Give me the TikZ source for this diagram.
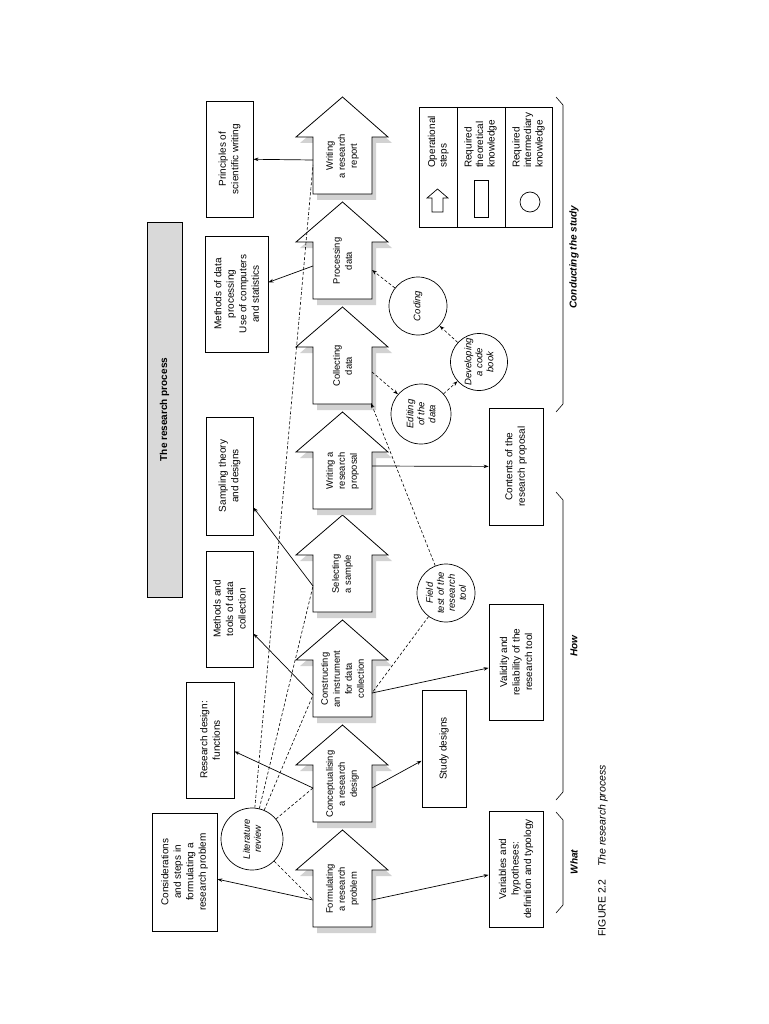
\documentclass[tikz,border=0pt]{standalone}
\usepackage{fontspec}
\setmainfont{Liberation Sans}
\usetikzlibrary{arrows.meta}
\tikzset{
 box/.style={draw,line width=0.8pt,fill=white,align=center,rotate=90,inner sep=1pt,font=\fontsize{10}{12.5}\selectfont},
 steptext/.style={align=center,rotate=90,inner sep=0pt,font=\fontsize{9.4}{12}\selectfont},
 legtext/.style={align=left,rotate=90,inner sep=0pt,font=\fontsize{10}{11.5}\selectfont},
 circ/.style={draw,circle,line width=0.7pt,fill=white,align=center,rotate=90,inner sep=0pt,font=\fontsize{9.5}{11}\selectfont\itshape},
 solidarr/.style={line width=0.7pt,-{Stealth[length=5pt,width=3.5pt]}},
 dline/.style={line width=0.6pt,dash pattern=on 3pt off 2pt},
 dasharr/.style={dline,-{Stealth[length=5pt,width=3.5pt]}},
 lbl/.style={rotate=90,font=\fontsize{10}{12}\selectfont\bfseries\itshape},
}
\newcommand\stepar[3]{%
 \fill[gray!35,shift={(4,6)}] (313,{#2+40}) -- (296,{#2+40}) -- (342.5,#2) -- (388,{#2+40}) -- (372,{#2+40}) -- (372,{#2+97}) -- (313,{#2+97}) -- cycle;
 \draw[line width=0.8pt,fill=white] (313,{#2+40}) -- (296,{#2+40}) -- (342.5,#2) -- (388,{#2+40}) -- (372,{#2+40}) -- (372,{#2+97}) -- (313,{#2+97}) -- cycle;
 \node[steptext] (#1) at (342.5,{#2+59}) {#3};
}
\begin{document}
\begin{tikzpicture}[x=1pt,y=-1pt]
\useasboundingbox[fill=white] (0,0) rectangle (768,1024);
% title
\node[box,fill=gray!30,minimum width=375pt,minimum height=35pt,font=\fontsize{10}{12}\selectfont\bfseries] (title) at (164.5,409.5) {The research process};
% steps
\stepar{form}{830}{Formulating\\a research\\problem}
\stepar{conc}{725}{Conceptualising\\a research\\design}
\stepar{cons}{620}{Constructing\\an instrument\\for data\\collection}
\stepar{samp}{515}{Selecting\\a sample}
\stepar{prop}{412}{Writing a\\research\\proposal}
\stepar{coll}{307}{Collecting\\data}
\stepar{proc}{202}{Processing\\data}
\stepar{rep}{97}{Writing\\a research\\report}
% coordinates on steps
\coordinate (formL) at (313,900); \coordinate (formR) at (372,900);
\coordinate (concL) at (313,788); \coordinate (concR) at (372,788);
\coordinate (consL) at (313,695); \coordinate (consR) at (372,693);
\coordinate (sampL) at (313,586);
\coordinate (propR) at (372,466);
\coordinate (collR) at (372,372); \coordinate (collB) at (371,403);
\coordinate (procL) at (313,266); \coordinate (procR) at (372,270);
\coordinate (repL) at (313,160); \coordinate (repLd) at (313,165);
% theory boxes
\node[box,minimum width=116pt,minimum height=47pt] (princ) at (229.5,159) {Principles of\\scientific writing};
\node[box,minimum width=116pt,minimum height=63pt] (mdp) at (236.5,294) {Methods of data\\processing\\Use of computers\\and statistics};
\node[box,minimum width=118pt,minimum height=47pt] (sth) at (229.5,476) {Sampling theory\\and designs};
\node[box,minimum width=116pt,minimum height=47pt] (mtd) at (229.5,609) {Methods and\\tools of data\\collection};
\node[box,minimum width=116pt,minimum height=48pt] (rdf) at (210,740) {Research design:\\functions};
\node[box,minimum width=118pt,minimum height=65pt] (csf) at (184.5,872) {Considerations\\and steps in\\formulating a\\research problem};
\node[box,minimum width=117pt,minimum height=44pt] (sd) at (444,748.5) {Study designs};
\node[box,minimum width=116pt,minimum height=54pt] (var) at (516,869) {Variables and\\hypotheses:\\definition and typology};
\node[box,minimum width=116pt,minimum height=54pt] (val) at (516,662) {Validity and\\reliability of the\\research tool};
\node[box,minimum width=117pt,minimum height=54pt] (cnt) at (516,466.5) {Contents of the\\research proposal};
% circles
\node[circ,minimum size=62pt] (lit) at (252,839) {Literature\\review};
\node[circ,minimum size=58pt] (fld) at (446,593) {Field\\test of the\\research\\tool};
\node[circ,minimum size=60pt] (edt) at (421,414) {Editing\\of the\\data};
\node[circ,minimum size=57pt] (dev) at (479,362) {Developing\\a code\\book};
\node[circ,minimum size=58pt] (cod) at (418,306) {Coding};
% dashed lines
\draw[dline] (lit) -- (repLd);
\draw[dline] (lit) -- (sampL);
\draw[dline] (lit) -- (consL);
\draw[dline] (lit) -- (concL);
\draw[dline] (lit) -- (formL);
\draw[dline] (fld) -- (consR);
\draw[dasharr] (fld) -- (collB);
\draw[dasharr] (collR) -- (edt);
\draw[dasharr] (edt) -- (dev);
\draw[dasharr] (dev) -- (cod);
\draw[dasharr] (cod) -- (procR);
% solid arrows
\draw[solidarr] (formL) -- (csf);
\draw[solidarr] (formR) -- (var);
\draw[solidarr] (concL) -- (rdf);
\draw[solidarr] (concR) -- (sd);
\draw[solidarr] (consL) -- (mtd);
\draw[solidarr] (consR) -- (val);
\draw[solidarr] (sampL) -- (sth);
\draw[solidarr] (propR) -- (cnt);
\draw[solidarr] (procL) -- (mdp);
\draw[solidarr] (repL) -- (princ);
% legend
\node[draw,line width=0.8pt,minimum width=120pt,minimum height=133pt,rotate=90,inner sep=0pt] (leg) at (485.5,167) {};
\draw[line width=0.8pt] (457,107) -- (457,227);
\draw[line width=0.8pt] (505,107) -- (505,227);
\node[legtext,anchor=south west] (l1) at (449,168) {Operational\\steps};
\node[legtext,anchor=south west] (l2) at (497,168) {Required\\theoretical\\knowledge};
\node[legtext,anchor=south west] (l3) at (545,168) {Required\\intermediary\\knowledge};
\draw[line width=0.7pt] (432,198) -- (427,198) -- (437.5,189) -- (448,198) -- (443,198) -- (443,212) -- (432,212) -- cycle;
\draw[line width=0.7pt] (474,180) rectangle (488,217);
\node[draw,circle,line width=0.7pt,minimum size=20pt,inner sep=0pt] (lc) at (530,202) {};
% brackets
\draw[line width=0.6pt] (556,97) -- (563,105) -- (563,404) -- (556,412);
\draw[line width=0.6pt] (556,492) -- (563,500) -- (563,792) -- (556,800);
\draw[line width=0.6pt] (556,812) -- (563,820) -- (563,905) -- (556,913);
\node[lbl] (b1) at (574,257) {Conducting the study};
\node[lbl] (b2) at (574,646) {How};
\node[lbl] (b3) at (574,862) {What};
% caption
\node[rotate=90,anchor=west,font=\fontsize{10.5}{12}\selectfont] (cap) at (603,940) {FIGURE 2.2\hspace{1.2em}\textit{The research process}};
\end{tikzpicture}
\end{document}
